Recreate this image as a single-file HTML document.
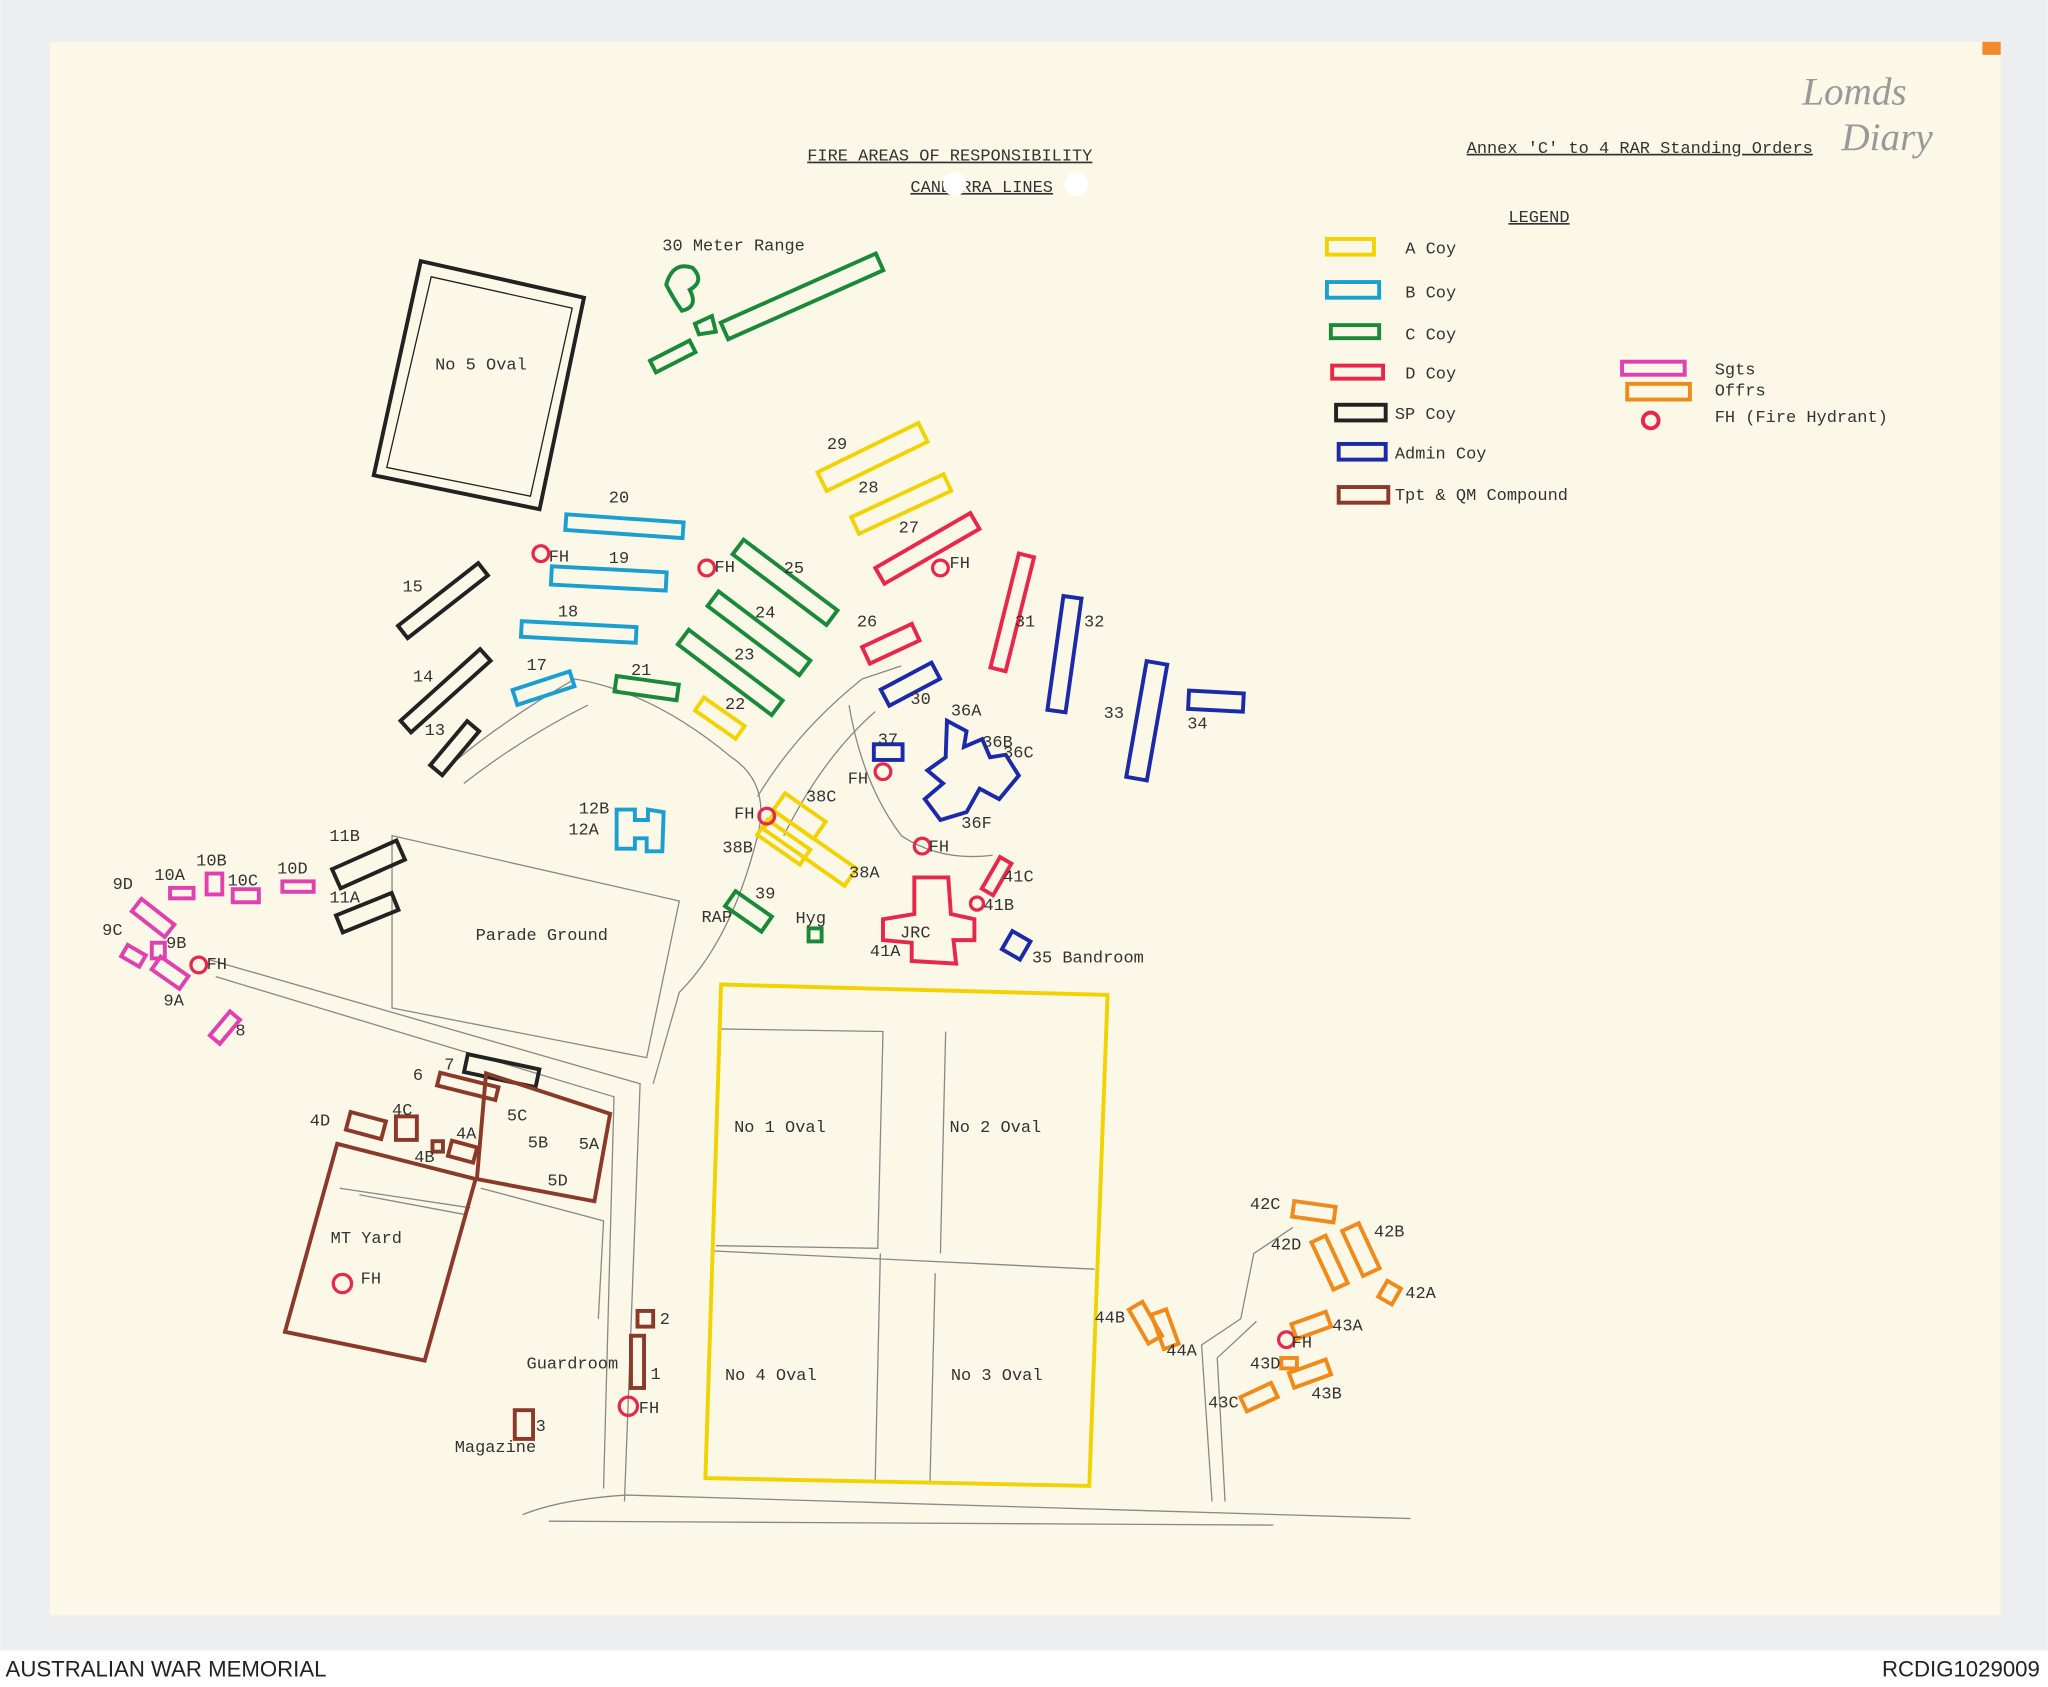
<!DOCTYPE html>
<html><head><meta charset="utf-8"><style>
html,body{margin:0;padding:0;background:#fff}
svg{display:block}
text{font-family:"Liberation Mono",monospace;font-size:13px;fill:#333}
.s{fill:none;stroke-width:3}
</style></head><body>
<svg width="2048" height="1687" viewBox="0 0 1568 1292" xmlns="http://www.w3.org/2000/svg">
<rect width="1568" height="1292" fill="#eceef0"/>
<rect x="0" y="1264" width="1568" height="28" fill="#fff"/>
<rect x="38" y="32" width="1494" height="1205" fill="#fcf8e8"/>
<rect x="1518" y="32" width="14" height="10" fill="#f08a2a"/>
<text x="4" y="1284" style="font-family:'Liberation Sans',sans-serif;font-size:17px;fill:#222">AUSTRALIAN WAR MEMORIAL</text>
<text x="1562" y="1284" text-anchor="end" style="font-family:'Liberation Sans',sans-serif;font-size:17px;fill:#222">RCDIG1029009</text>

<g fill="none" stroke="#888" stroke-width="1">
<path d="M160,735 L490,830 L478,1150"/><path d="M165,748 L470,840 L462,1140"/>
<path d="M400,1160 Q430,1148 480,1145 L1080,1163"/><path d="M420,1165 L975,1168"/>
<path d="M928,1150 L920,1030 L950,1010 L960,960 L990,940"/><path d="M938,1150 L932,1040 L962,1012"/>
<path d="M340,590 Q380,555 440,520 Q500,530 560,580 Q590,600 580,640 Q560,720 520,760 L500,830"/>
<path d="M355,600 Q400,565 450,540"/>
<path d="M580,610 Q610,560 660,520 L690,510"/><path d="M600,640 Q630,580 670,545"/>
<path d="M650,540 Q660,600 690,640 Q720,660 760,655"/>
<path d="M300,640 L520,690 L495,810 L300,772 Z"/>
<path d="M260,910 L360,925"/><path d="M275,915 L355,930"/>
<path d="M368,910 L462,935 L458,1010"/>
<path d="M550,788 L676,790 L672,956 L548,954"/><path d="M724,790 L720,960"/><path d="M545,958 L838,972"/><path d="M674,960 L670,1135"/><path d="M716,975 L712,1135"/>
</g>

<text x="618" y="123" style="text-decoration:underline">FIRE AREAS OF RESPONSIBILITY</text>
<text x="697" y="147" style="text-decoration:underline">CANBERRA LINES</text>
<circle cx="731" cy="141" r="9" fill="#fff"/><circle cx="824" cy="141" r="9" fill="#fff"/>
<text x="1123" y="117" style="text-decoration:underline">Annex 'C' to 4 RAR Standing Orders</text>
<text x="1155" y="170" style="text-decoration:underline">LEGEND</text>
<text x="1380" y="80" style="font-family:'Liberation Serif',serif;font-style:italic;font-size:30px;fill:#999">Lomds</text>
<text x="1410" y="115" style="font-family:'Liberation Serif',serif;font-style:italic;font-size:30px;fill:#999">Diary</text>

<g class="s">
<rect x="1016" y="183" width="36" height="12" stroke="#f2d200" class="s"/>
<rect x="1016" y="216" width="40" height="12" stroke="#1a9fd0" class="s"/>
<rect x="1019" y="249" width="37" height="10" stroke="#1a8a3a" class="s"/>
<rect x="1020" y="280" width="39" height="10" stroke="#e8284a" class="s"/>
<rect x="1023" y="310" width="38" height="12" stroke="#222" class="s"/>
<rect x="1025" y="340" width="36" height="12" stroke="#1c2aa8" class="s"/>
<rect x="1025" y="373" width="38" height="12" stroke="#8b3a2a" class="s"/>
<rect x="1242" y="277" width="48" height="10" stroke="#e040b0" class="s"/>
<rect x="1246" y="294" width="48" height="12" stroke="#f08a1a" class="s"/>
<circle cx="1264" cy="322" r="6" stroke="#e8284a" class="s"/>
</g>
<text x="1076" y="194">A Coy</text><text x="1076" y="228">B Coy</text><text x="1076" y="260">C Coy</text><text x="1076" y="290">D Coy</text><text x="1068" y="321">SP Coy</text><text x="1068" y="351">Admin Coy</text><text x="1068" y="383">Tpt &amp; QM Compound</text>
<text x="1313" y="287">Sgts</text><text x="1313" y="303">Offrs</text><text x="1313" y="323">FH (Fire Hydrant)</text>

<g fill="none" stroke="#222" stroke-width="3">
<polygon points="322,200 447,228 413,390 286,364"/><polygon points="330,212 438,236 406,380 296,358" stroke-width="1"/>
<rect x="-39" y="-6" width="78" height="12" transform="translate(339,460) rotate(-38)"/>
<rect x="-41" y="-6" width="82" height="12" transform="translate(341,529) rotate(-42)"/>
<rect x="-22" y="-6" width="44" height="12" transform="translate(348,573) rotate(-50)"/>
<rect x="-27" y="-8" width="54" height="16" transform="translate(282,662) rotate(-24)"/>
<rect x="-23" y="-7" width="46" height="14" transform="translate(281,699) rotate(-22)"/>
<rect x="-28" y="-7" width="56" height="14" transform="translate(384,820) rotate(12)"/>
</g>
<g fill="none" stroke="#1a8a3a" stroke-width="3">
<rect x="-65" y="-7" width="130" height="14" transform="translate(614,227) rotate(-24)"/>
<rect x="-17" y="-5" width="34" height="10" transform="translate(515,273) rotate(-27)"/>
<path d="M510,218 Q515,200 530,205 Q540,215 528,222 Q535,235 522,238 Q515,228 510,218 Z M532,248 L545,242 L548,254 L535,256 Z"/>
<rect x="-45" y="-7" width="90" height="14" transform="translate(601,446) rotate(37)"/>
<rect x="-44" y="-7" width="88" height="14" transform="translate(581,485) rotate(37)"/>
<rect x="-45" y="-7" width="90" height="14" transform="translate(559,515) rotate(37)"/>
<rect x="-24" y="-6" width="48" height="12" transform="translate(495,527) rotate(8)"/>
<rect x="-17" y="-7" width="34" height="14" transform="translate(573,698) rotate(35)"/>
<rect x="619" y="711" width="10" height="10"/>
</g>
<g fill="none" stroke="#f2d200" stroke-width="3">
<rect x="-43" y="-8" width="86" height="16" transform="translate(668,350) rotate(-26)"/>
<rect x="-39" y="-7" width="78" height="14" transform="translate(690,386) rotate(-25)"/>
<rect x="-19" y="-6" width="38" height="12" transform="translate(551,550) rotate(35)"/>
<rect x="-19" y="-8" width="38" height="16" transform="translate(612,625) rotate(35)"/>
<rect x="-38" y="-8" width="76" height="16" transform="translate(620,650) rotate(35)"/>
<rect x="-20" y="-7" width="40" height="14" transform="translate(600,645) rotate(35)"/>
<polygon points="552,754 848,762 834,1138 540,1132"/>
</g>
<g fill="none" stroke="#1a9fd0" stroke-width="3">
<rect x="-45" y="-6" width="90" height="12" transform="translate(478,403) rotate(4)"/>
<rect x="-44" y="-7" width="88" height="14" transform="translate(466,443) rotate(3)"/>
<rect x="-44" y="-6" width="88" height="12" transform="translate(443,484) rotate(3)"/>
<rect x="-23" y="-6" width="46" height="12" transform="translate(416,527) rotate(-18)"/>
<path d="M472,620 L486,620 L486,628 L496,628 L496,620 L508,622 L507,652 L495,652 L495,642 L486,642 L486,650 L472,650 Z"/>
</g>
<g fill="none" stroke="#e8284a" stroke-width="3">
<rect x="-42" y="-7" width="84" height="14" transform="translate(710,420) rotate(-30)"/>
<rect x="-21" y="-7" width="42" height="14" transform="translate(682,493) rotate(-25)"/>
<rect x="-45" y="-6" width="90" height="12" transform="translate(775,469) rotate(-76)"/>
<rect x="-14" y="-5" width="28" height="10" transform="translate(763,671) rotate(-60)"/>
<polygon points="700,672 726,672 728,700 746,704 746,720 730,720 732,738 698,736 698,722 676,720 676,704 700,700"/>
<g stroke-width="2.5">
<circle cx="414" cy="424" r="6"/><circle cx="541" cy="435" r="6"/><circle cx="720" cy="435" r="6"/><circle cx="676" cy="591" r="6"/><circle cx="587" cy="625" r="6"/><circle cx="706" cy="648" r="6"/><circle cx="748" cy="692" r="5"/><circle cx="152" cy="739" r="6"/><circle cx="262" cy="983" r="7"/><circle cx="481" cy="1077" r="7"/><circle cx="985" cy="1026" r="6"/>
</g>
</g>
<g fill="none" stroke="#1c2aa8" stroke-width="3">
<rect x="-22" y="-7" width="44" height="14" transform="translate(697,524) rotate(-28)"/>
<rect x="-44" y="-7" width="88" height="14" transform="translate(815,501) rotate(-82)"/>
<rect x="-45" y="-8" width="90" height="16" transform="translate(878,552) rotate(-80)"/>
<rect x="-21" y="-7" width="42" height="14" transform="translate(931,537) rotate(3)"/>
<rect x="669" y="570" width="22" height="12"/>
<path d="M725,552 L740,560 L738,572 L752,566 L758,580 L770,578 L780,594 L765,612 L750,604 L740,622 L720,628 L708,612 L722,600 L710,590 L724,580 Z"/>
<rect x="-8" y="-8" width="16" height="16" transform="translate(778,724) rotate(30)"/>
</g>
<g fill="none" stroke="#e040b0" stroke-width="3">
<rect x="216" y="675" width="24" height="8"/><rect x="178" y="681" width="20" height="10"/><rect x="158" y="669" width="12" height="16"/><rect x="130" y="680" width="18" height="8"/>
<rect x="-16" y="-6" width="32" height="12" transform="translate(117,703) rotate(38)"/>
<rect x="-8" y="-5" width="16" height="10" transform="translate(102,732) rotate(30)"/>
<rect x="116" y="722" width="10" height="12"/>
<rect x="-13" y="-6" width="26" height="12" transform="translate(130,745) rotate(35)"/>
<rect x="-5" y="-12" width="10" height="24" transform="translate(172,787) rotate(40)"/>
</g>
<g fill="none" stroke="#8b3a2a" stroke-width="3">
<rect x="-23" y="-5" width="46" height="10" transform="translate(358,832) rotate(14)"/>
<polygon points="372,822 467,853 455,920 365,903"/>
<polygon points="258,876 364,903 325,1042 218,1020"/>
<rect x="-14" y="-7" width="28" height="14" transform="translate(280,862) rotate(15)"/>
<rect x="303" y="855" width="16" height="18"/>
<rect x="-10" y="-6" width="20" height="12" transform="translate(354,882) rotate(15)"/>
<rect x="331" y="874" width="8" height="8"/>
<rect x="488" y="1004" width="12" height="12"/><rect x="483" y="1023" width="10" height="40"/><rect x="394" y="1080" width="14" height="22"/>
</g>
<g fill="none" stroke="#f08a1a" stroke-width="3">
<rect x="-16" y="-6" width="32" height="12" transform="translate(1006,928) rotate(8)"/>
<rect x="-6" y="-20" width="12" height="40" transform="translate(1018,967) rotate(-25)"/>
<rect x="-7" y="-19" width="14" height="38" transform="translate(1042,957) rotate(-25)"/>
<rect x="-6" y="-7" width="12" height="14" transform="translate(1064,990) rotate(30)"/>
<rect x="-14" y="-6" width="28" height="12" transform="translate(1004,1015) rotate(-20)"/>
<rect x="-15" y="-6" width="30" height="12" transform="translate(1003,1052) rotate(-20)"/>
<rect x="981" y="1040" width="12" height="8"/>
<rect x="-13" y="-6" width="26" height="12" transform="translate(964,1070) rotate(-25)"/>
<rect x="-6" y="-15" width="12" height="30" transform="translate(877,1013) rotate(-30)"/>
<rect x="-6" y="-14" width="12" height="28" transform="translate(892,1018) rotate(-20)"/>
</g>

<text x="507" y="192">30 Meter Range</text>
<text x="333" y="283">No 5 Oval</text>
<text x="633" y="344">29</text><text x="657" y="377">28</text><text x="688" y="408">27</text>
<text x="466" y="385">20</text><text x="466" y="431">19</text><text x="427" y="472">18</text>
<text x="420" y="430">FH</text><text x="547" y="438">FH</text><text x="727" y="435">FH</text>
<text x="600" y="439">25</text><text x="578" y="473">24</text><text x="562" y="505">23</text><text x="555" y="543">22</text>
<text x="308" y="453">15</text><text x="316" y="522">14</text><text x="325" y="563">13</text>
<text x="403" y="513">17</text><text x="483" y="517">21</text>
<text x="656" y="480">26</text><text x="697" y="539">30</text>
<text x="777" y="480">31</text><text x="830" y="480">32</text><text x="845" y="550">33</text><text x="909" y="558">34</text>
<text x="728" y="548">36A</text><text x="752" y="572">36B</text><text x="768" y="580">36C</text><text x="736" y="634">36F</text>
<text x="672" y="570">37</text><text x="649" y="600">FH</text>
<text x="443" y="623">12B</text><text x="435" y="639">12A</text>
<text x="617" y="614">38C</text><text x="562" y="627">FH</text><text x="553" y="653">38B</text><text x="650" y="672">38A</text>
<text x="711" y="652">FH</text><text x="768" y="675">41C</text><text x="753" y="697">41B</text>
<text x="578" y="688">39</text><text x="537" y="706">RAP</text><text x="609" y="707">Hyg</text>
<text x="689" y="718">JRC</text><text x="666" y="732">41A</text><text x="790" y="737">35 Bandroom</text>
<text x="252" y="644">11B</text><text x="252" y="691">11A</text>
<text x="212" y="669">10D</text><text x="174" y="678">10C</text><text x="150" y="663">10B</text><text x="118" y="674">10A</text>
<text x="86" y="681">9D</text><text x="78" y="716">9C</text><text x="127" y="726">9B</text><text x="125" y="770">9A</text><text x="158" y="742">FH</text><text x="180" y="793">8</text>
<text x="364" y="720">Parade Ground</text>
<text x="316" y="827">6</text><text x="340" y="819">7</text>
<text x="237" y="862">4D</text><text x="300" y="854">4C</text><text x="349" y="872">4A</text><text x="317" y="890">4B</text>
<text x="388" y="858">5C</text><text x="404" y="879">5B</text><text x="443" y="880">5A</text><text x="419" y="908">5D</text>
<text x="253" y="952">MT Yard</text><text x="276" y="983">FH</text>
<text x="505" y="1014">2</text><text x="498" y="1056">1</text><text x="403" y="1048">Guardroom</text><text x="489" y="1082">FH</text>
<text x="410" y="1096">3</text><text x="348" y="1112">Magazine</text>
<text x="562" y="867">No 1 Oval</text><text x="727" y="867">No 2 Oval</text>
<text x="555" y="1057">No 4 Oval</text><text x="728" y="1057">No 3 Oval</text>
<text x="957" y="926">42C</text><text x="973" y="957">42D</text><text x="1052" y="947">42B</text><text x="1076" y="994">42A</text>
<text x="1020" y="1019">43A</text><text x="989" y="1032">FH</text><text x="957" y="1048">43D</text><text x="1004" y="1071">43B</text><text x="925" y="1078">43C</text>
<text x="838" y="1013">44B</text><text x="893" y="1038">44A</text>
</svg>
</body></html>
